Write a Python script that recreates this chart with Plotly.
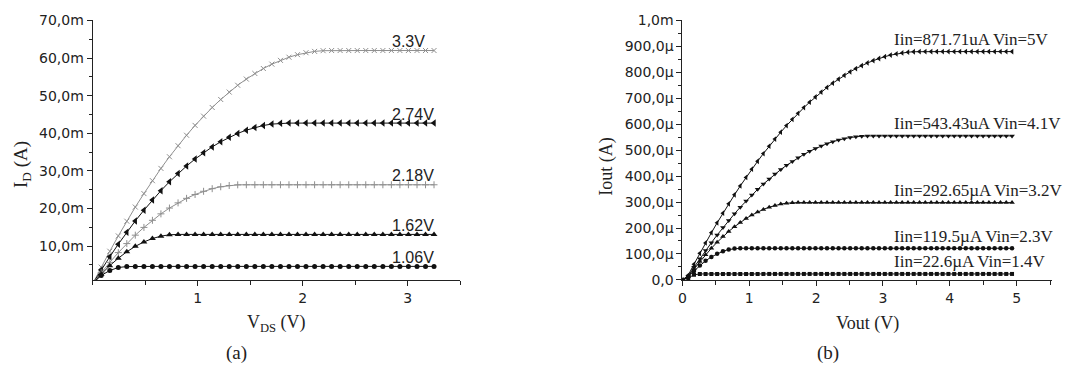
import plotly.graph_objects as go

# ---------------- data: panel (a) ----------------
vds = [0, 0.081, 0.163, 0.244, 0.325, 0.406, 0.488, 0.569, 0.65, 0.731,
       0.813, 0.894, 0.975, 1.056, 1.138, 1.219, 1.3, 1.381, 1.463, 1.544,
       1.625, 1.706, 1.788, 1.869, 1.95, 2.031, 2.113, 2.194, 2.275, 2.356,
       2.438, 2.519, 2.6, 2.681, 2.763, 2.844, 2.925, 3.006, 3.088, 3.169, 3.25]

id_3v3 = [0, 4.40, 8.63, 12.70, 16.61, 20.37, 23.96, 27.39, 30.65, 33.75,
          36.69, 39.47, 42.09, 44.55, 46.85, 48.98, 50.95, 52.76, 54.41, 55.89,
          57.22, 58.38, 59.38, 60.22, 60.90, 61.42, 61.77, 61.96, 62.0, 62.0,
          62.0, 62.0, 62.0, 62.0, 62.0, 62.0, 62.0, 62.0, 62.0, 62.0, 62.0]
id_2v74 = [0, 3.67, 7.17, 10.51, 13.69, 16.70, 19.54, 22.22, 24.74, 27.09,
           29.27, 31.29, 33.15, 34.84, 36.37, 37.73, 38.93, 39.96, 40.83, 41.53,
           42.07, 42.44, 42.65, 42.7, 42.7, 42.7, 42.7, 42.7, 42.7, 42.7,
           42.7, 42.7, 42.7, 42.7, 42.7, 42.7, 42.7, 42.7, 42.7, 42.7, 42.7]
id_2v18 = [0, 2.92, 5.67, 8.26, 10.66, 12.90, 14.96, 16.85, 18.57, 20.11,
           21.49, 22.69, 23.72, 24.57, 25.26, 25.77, 26.11, 26.28, 26.3, 26.3,
           26.3, 26.3, 26.3, 26.3, 26.3, 26.3, 26.3, 26.3, 26.3, 26.3,
           26.3, 26.3, 26.3, 26.3, 26.3, 26.3, 26.3, 26.3, 26.3, 26.3, 26.3]
id_1v62 = [0, 2.53, 4.78, 6.77, 8.48, 9.93, 11.10, 12.00, 12.64, 13.00,
           13.1, 13.1, 13.1, 13.1, 13.1, 13.1, 13.1, 13.1, 13.1, 13.1,
           13.1, 13.1, 13.1, 13.1, 13.1, 13.1, 13.1, 13.1, 13.1, 13.1,
           13.1, 13.1, 13.1, 13.1, 13.1, 13.1, 13.1, 13.1, 13.1, 13.1, 13.1]
id_1v06 = [0, 2.2, 3.5, 4.3, 4.55, 4.6, 4.6, 4.6, 4.6, 4.6,
           4.6, 4.6, 4.6, 4.6, 4.6, 4.6, 4.6, 4.6, 4.6, 4.6,
           4.6, 4.6, 4.6, 4.6, 4.6, 4.6, 4.6, 4.6, 4.6, 4.6,
           4.6, 4.6, 4.6, 4.6, 4.6, 4.6, 4.6, 4.6, 4.6, 4.6, 4.6]
labels_a = ["3.3V", "2.74V", "2.18V", "1.62V", "1.06V"]

a_yticks = [10, 20, 30, 40, 50, 60, 70]
a_yticktext = ["10,0m", "20,0m", "30,0m", "40,0m", "50,0m", "60,0m", "70,0m"]
a_xticks = [1, 2, 3]

# ---------------- data: panel (b) ----------------
vout = [0, 0.087, 0.173, 0.26, 0.346, 0.433, 0.519, 0.606, 0.692, 0.779,
        0.865, 0.952, 1.038, 1.125, 1.211, 1.298, 1.384, 1.471, 1.557, 1.644,
        1.73, 1.817, 1.903, 1.99, 2.076, 2.163, 2.249, 2.336, 2.422, 2.509,
        2.595, 2.682, 2.768, 2.855, 2.941, 3.028, 3.114, 3.201, 3.287, 3.374,
        3.46, 3.547, 3.633, 3.72, 3.806, 3.893, 3.979, 4.066, 4.152, 4.239,
        4.325, 4.412, 4.498, 4.585, 4.671, 4.758, 4.844, 4.931]

iout_5v = [0, 18.2, 60.7, 102.3, 142.6, 181.9, 220.0, 257.2, 293.2, 328.2,
           362.2, 395.0, 426.7, 457.4, 487.0, 515.5, 542.9, 569.4, 594.7, 618.9,
           642.0, 664.1, 685.1, 705.0, 724.0, 741.7, 758.4, 774.0, 788.6, 802.1,
           814.4, 825.9, 836.1, 845.2, 853.3, 860.4, 866.4, 871.2, 875.0, 877.8,
           879.4, 880, 880, 880, 880, 880, 880, 880, 880, 880,
           880, 880, 880, 880, 880, 880, 880, 880]
iout_4v1 = [0, 14.6, 48.5, 81.3, 113.1, 143.6, 173.2, 201.6, 228.9, 255.1,
            280.2, 304.2, 327.2, 349.0, 369.7, 389.3, 407.9, 425.3, 441.6, 456.8,
            471.0, 484.0, 496.0, 506.8, 516.5, 525.2, 532.7, 539.2, 544.5, 548.8,
            551.9, 553.9, 554.9, 555, 555, 555, 555, 555, 555, 555,
            555, 555, 555, 555, 555, 555, 555, 555, 555, 555,
            555, 555, 555, 555, 555, 555, 555, 555]
iout_3v2 = [0, 13.0, 42.8, 70.9, 97.3, 122.1, 145.3, 166.9, 186.8, 205.1,
            221.7, 236.7, 250.0, 261.7, 271.8, 280.3, 287.1, 292.2, 295.8, 297.6,
            298, 298, 298, 298, 298, 298, 298, 298, 298, 298,
            298, 298, 298, 298, 298, 298, 298, 298, 298, 298,
            298, 298, 298, 298, 298, 298, 298, 298, 298, 298,
            298, 298, 298, 298, 298, 298, 298, 298]
iout_2v3 = [0, 10.9, 34.6, 55.5, 73.6, 88.8, 101.1, 110.6, 117.2, 121.0,
            122, 122, 122, 122, 122, 122, 122, 122, 122, 122,
            122, 122, 122, 122, 122, 122, 122, 122, 122, 122,
            122, 122, 122, 122, 122, 122, 122, 122, 122, 122,
            122, 122, 122, 122, 122, 122, 122, 122, 122, 122,
            122, 122, 122, 122, 122, 122, 122, 122]
iout_1v4 = [0, 7.6, 19.6, 23, 23, 23, 23, 23, 23, 23,
            23, 23, 23, 23, 23, 23, 23, 23, 23, 23,
            23, 23, 23, 23, 23, 23, 23, 23, 23, 23,
            23, 23, 23, 23, 23, 23, 23, 23, 23, 23,
            23, 23, 23, 23, 23, 23, 23, 23, 23, 23,
            23, 23, 23, 23, 23, 23, 23, 23]
labels_b = ["Iin=871.71uA Vin=5V", "Iin=543.43uA Vin=4.1V",
            "Iin=292.65\u00b5A Vin=3.2V", "Iin=119.5\u00b5A Vin=2.3V",
            "Iin=22.6\u00b5A Vin=1.4V"]

b_yticks = [0, 100, 200, 300, 400, 500, 600, 700, 800, 900, 1000]
b_yticktext = ["0,0", "100,0\u00b5", "200,0\u00b5", "300,0\u00b5", "400,0\u00b5",
               "500,0\u00b5", "600,0\u00b5", "700,0\u00b5", "800,0\u00b5",
               "900,0\u00b5", "1,0m"]
b_xticks = [0, 1, 2, 3, 4, 5]

for s in [id_3v3, id_2v74, id_2v18, id_1v62, id_1v06]:
    assert len(s) == len(vds), len(s)
for s in [iout_5v, iout_4v1, iout_3v2, iout_2v3, iout_1v4]:
    assert len(s) == len(vout), len(s)

# ---------------- styles ----------------
GRAY = "#8f8f8f"
BLACK = "#111111"
TXT = "#222222"

a_series = [id_3v3, id_2v74, id_2v18, id_1v62, id_1v06]
a_styles = [
    dict(symbol="x-thin", size=5, color=GRAY, line=dict(width=1, color=GRAY)),
    dict(symbol="triangle-left", size=6.5, color=BLACK, line=dict(width=0)),
    dict(symbol="cross-thin", size=5, color=GRAY, line=dict(width=1, color=GRAY)),
    dict(symbol="triangle-up", size=6, color=BLACK, line=dict(width=0)),
    dict(symbol="circle", size=5, color=BLACK, line=dict(width=0)),
]
a_linecol = [GRAY, BLACK, GRAY, BLACK, BLACK]

b_series = [iout_5v, iout_4v1, iout_3v2, iout_2v3, iout_1v4]
b_styles = [
    dict(symbol="triangle-left", size=5, color=BLACK, line=dict(width=0)),
    dict(symbol="triangle-down", size=5, color=BLACK, line=dict(width=0)),
    dict(symbol="triangle-up", size=5, color=BLACK, line=dict(width=0)),
    dict(symbol="circle", size=4.5, color=BLACK, line=dict(width=0)),
    dict(symbol="square", size=4, color=BLACK, line=dict(width=0)),
]

fig = go.Figure()
for ys, mk, lc in zip(a_series, a_styles, a_linecol):
    fig.add_trace(go.Scatter(x=vds, y=ys, mode="lines+markers", marker=mk,
                             line=dict(color=lc, width=1), xaxis="x", yaxis="y",
                             hoverinfo="skip"))
for ys, mk in zip(b_series, b_styles):
    fig.add_trace(go.Scatter(x=vout, y=ys, mode="lines+markers", marker=mk,
                             line=dict(color=BLACK, width=1), xaxis="x2", yaxis="y2",
                             hoverinfo="skip"))

W, H = 1070, 376
tickfont = dict(family="DejaVu Sans", size=14, color=TXT)
common = dict(showline=True, linecolor=TXT, linewidth=1, ticks="outside",
              ticklen=5, tickwidth=1, tickcolor=TXT, showgrid=False,
              zeroline=False, tickfont=tickfont, fixedrange=True)
minor_x = dict(ticks="outside", ticklen=4, tickwidth=1, tickcolor=TXT, tick0=0, dtick=0.5)

ydom = [(H - 284) / H, (H - 13) / H]
fig.update_layout(
    width=W, height=H, margin=dict(l=0, r=0, t=0, b=0),
    plot_bgcolor="white", paper_bgcolor="white", showlegend=False,
    xaxis=dict(domain=[89 / W, 458 / W], range=[0, 3.5], tickmode="array",
               tickvals=a_xticks, minor=minor_x, anchor="y", **common),
    yaxis=dict(domain=ydom, range=[1, 70], tickmode="array", tickvals=a_yticks,
               ticktext=a_yticktext, anchor="x",
               minor=dict(ticks="outside", ticklen=3, tickwidth=1, tickcolor=TXT,
                          tick0=0, dtick=5), **common),
    xaxis2=dict(domain=[681 / W, 1052 / W], range=[0, 5.53], tickmode="array",
                tickvals=b_xticks, minor=minor_x, anchor="y2", **common),
    yaxis2=dict(domain=ydom, range=[0, 1000], tickmode="array", tickvals=b_yticks,
                ticktext=b_yticktext, anchor="x2",
                minor=dict(ticks="outside", ticklen=3, tickwidth=1, tickcolor=TXT,
                           tick0=0, dtick=50), **common),
)

ann = []
# curve labels panel (a)
for ys, lab in zip(a_series, labels_a):
    ann.append(dict(x=2.83, y=ys[-1], xref="x", yref="y", text=lab, showarrow=False,
                    xanchor="left", yanchor="middle", yshift=9,
                    font=dict(family="Liberation Sans", size=16, color=TXT)))
# curve labels panel (b)
for ys, lab in zip(b_series, labels_b):
    ann.append(dict(x=3.14, y=ys[-1], xref="x2", yref="y2", text=lab, showarrow=False,
                    xanchor="left", yanchor="middle", yshift=12,
                    font=dict(family="Liberation Serif", size=17, color=TXT)))

serif = dict(family="Liberation Serif", color=TXT)
def pa(text, px, py, size, angle=0):
    ann.append(dict(x=px / W, y=1 - py / H, xref="paper", yref="paper", text=text,
                    showarrow=False, xanchor="center", yanchor="middle",
                    textangle=angle, font=dict(size=size, **serif)))

pa("I<sub>D</sub> (A)", 18, 163, 19, -90)
pa("V<sub>DS</sub> (V)", 274, 330, 18)
pa("(a)", 233, 360, 19)
pa("Iout (A)", 605, 166, 18, -90)
pa("Vout (V)", 867, 329, 18)
pa("(b)", 827, 360, 19)

fig.update_layout(annotations=ann)
fig.write_html("out.html")
